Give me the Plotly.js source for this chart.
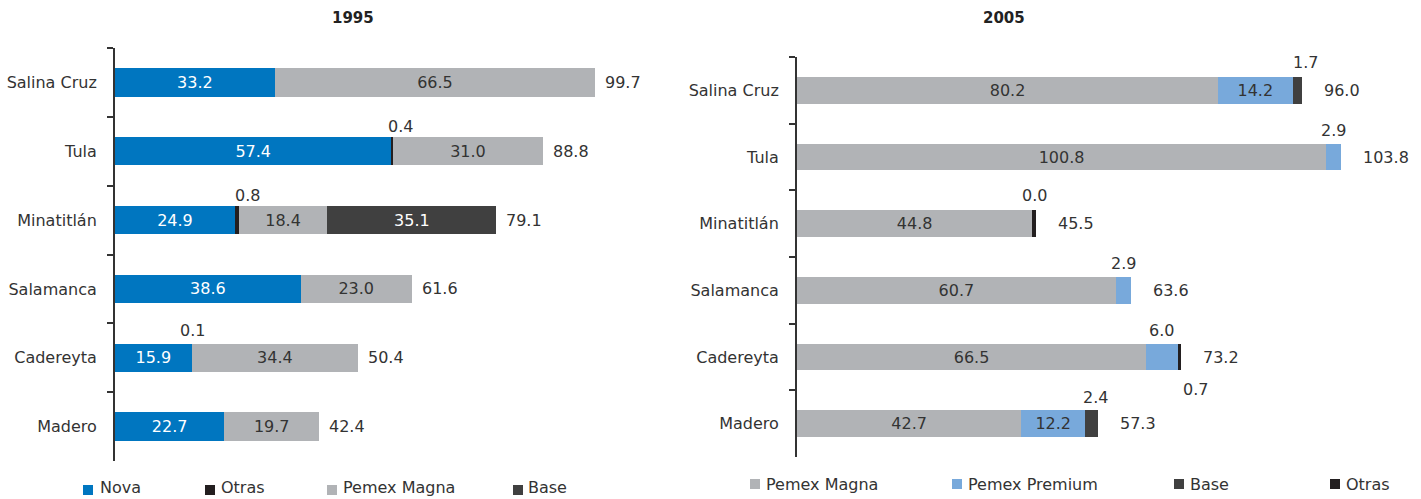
<!DOCTYPE html>
<html>
<head>
<meta charset="utf-8">
<script src="https://cdn.plot.ly/plotly-3.0.1.min.js"></script>
<style>html,body{margin:0;padding:0;background:#fff;}#chart{width:1421px;height:499px;}</style>
</head>
<body>
<div id="chart"></div>
<script>
// ---------- DATA ----------
const categories = ['Salina Cruz', 'Tula', 'Minatitlán', 'Salamanca', 'Cadereyta', 'Madero'];

// 1995
const nova1995  = [33.2, 57.4, 24.9, 38.6, 15.9, 22.7];
const otras1995 = [0, 0.4, 0.8, 0, 0.1, 0];
const magna1995 = [66.5, 31.0, 18.4, 23.0, 34.4, 19.7];
const base1995  = [0, 0, 35.1, 0, 0, 0];
const total1995 = [99.7, 88.8, 79.1, 61.6, 50.4, 42.4];

// 2005
const magna2005   = [80.2, 100.8, 44.8, 60.7, 66.5, 42.7];
const premium2005 = [14.2, 2.9, 0, 2.9, 6.0, 12.2];
const base2005    = [1.7, 0, 0, 0, 0, 2.4];
const otras2005   = [0, 0, 0.7, 0, 0.7, 0];
const otrasLabel2005 = ['', '', '0.0', '', '0.7', ''];
const total2005   = [96.0, 103.8, 45.5, 63.6, 73.2, 57.3];

// ---------- STYLE ----------
const FONT = 'DejaVu Sans, sans-serif';
const TXT = '#333333';
const FS = 16;
const C = {nova: '#0076c0', otras: '#231f20', magna: '#b1b3b6', base: '#404040', premium: '#78a9db'};
const W = 1421, H = 499;

function fmt(v) { return v.toFixed(1); }

const traces = [];
const annotations = [];
const shapes = [];

function addLegendItem(name, color, sqLeftPx, textLeftPx, cyPx) {
  shapes.push({type: 'rect', xref: 'paper', yref: 'paper',
    x0: sqLeftPx / W, x1: (sqLeftPx + 10) / W, y0: 1 - (cyPx + 5) / H, y1: 1 - (cyPx - 5) / H,
    fillcolor: color, line: {width: 0}});
  const bottomPx = Math.min(H, cyPx + 12);
  annotations.push({xref: 'paper', yref: 'paper', x: textLeftPx / W, y: 1 - bottomPx / H,
    xanchor: 'left', yanchor: 'bottom', text: name, showarrow: false,
    font: {family: FONT, size: FS, color: TXT}});
}

function addChart(series, xa, ya, width, totals, totalShift, legendPos, legendY) {
  const cum = categories.map(() => 0);
  series.forEach((s, k) => {
    traces.push({
      type: 'bar', orientation: 'h', name: s.name,
      y: categories, x: s.values, xaxis: xa, yaxis: ya,
      width: width,
      marker: {color: s.color, line: {width: 0}},
      text: s.values.map(v => v >= 10 ? fmt(v) : ''),
      textposition: 'inside', insidetextanchor: 'middle', textangle: 0,
      constraintext: 'none',
      insidetextfont: {family: FONT, size: FS, color: s.textColor || TXT},
      hoverinfo: 'skip', showlegend: false
    });
    addLegendItem(s.name, s.color, legendPos[k][0], legendPos[k][1], legendY);
    s.values.forEach((v, i) => {
      const lab = s.labels ? s.labels[i] : (v > 0 && v < 10 ? fmt(v) : '');
      if (lab !== '') {
        const sh = (s.shift && s.shift[i]) || [0, 27];
        annotations.push({
          xref: xa, yref: ya, x: cum[i] + v / 2, y: categories[i],
          text: lab, showarrow: false, xshift: sh[0], yshift: sh[1],
          font: {family: FONT, size: FS, color: TXT}
        });
      }
      cum[i] += v;
    });
  });
  totals.forEach((t, i) => {
    annotations.push({
      xref: xa, yref: ya, x: cum[i], y: categories[i], text: fmt(t),
      showarrow: false, xanchor: 'left', xshift: totalShift,
      font: {family: FONT, size: FS, color: TXT}
    });
  });
}

addChart([
  {name: 'Nova', values: nova1995, color: C.nova, textColor: '#ffffff'},
  {name: 'Otras', values: otras1995, color: C.otras, shift: {1: [8, 25], 2: [11, 25], 4: [1, 27]}},
  {name: 'Pemex Magna', values: magna1995, color: C.magna},
  {name: 'Base', values: base1995, color: C.base, textColor: '#ffffff'}
], 'x', 'y', 0.41, total1995, 8,
  [[83, 98], [205, 219], [327, 341], [513, 526]], 490);

addChart([
  {name: 'Pemex Magna', values: magna2005, color: C.magna},
  {name: 'Pemex Premium', values: premium2005, color: C.premium},
  {name: 'Base', values: base2005, color: C.base, shift: {0: [8, 28], 5: [4, 26]}},
  {name: 'Otras', values: otras2005, color: C.otras, labels: otrasLabel2005, shift: {2: [0, 28], 4: [16, -32]}}
], 'x2', 'y2', 0.40, total2005, 20,
  [[750, 764], [952, 966], [1174, 1188], [1330, 1344]], 484);

// titles
annotations.push({xref: 'paper', yref: 'paper', x: 330 / W, y: 1 - 18 / H, yanchor: 'middle', text: '<b>1995</b>',
  showarrow: false, font: {family: FONT, size: 15, color: '#222'}});
annotations.push({xref: 'paper', yref: 'paper', x: 1027 / W, y: 1 - 18 / H, yanchor: 'middle', text: '<b>2005</b>',
  showarrow: false, font: {family: FONT, size: 15, color: '#222'}});

const yAxisBase = {
  type: 'category', range: [5.5, -0.5], showline: true, linecolor: '#333', linewidth: 2,
  ticks: 'outside', ticklen: 6, tickwidth: 2, tickcolor: '#333', tickson: 'boundaries',
  ticklabelstandoff: 13, showgrid: false, zeroline: false, fixedrange: true,
  tickfont: {family: FONT, size: FS, color: TXT}
};

const layout = {
  width: W, height: H, margin: {l: 0, r: 0, t: 0, b: 0, autoexpand: false},
  paper_bgcolor: '#fff', plot_bgcolor: '#fff',
  barmode: 'stack', hovermode: false, showlegend: false,
  xaxis: {domain: [115 / W, 655 / W], range: [0, 540 / 4.815], visible: false, fixedrange: true, anchor: 'y'},
  yaxis: Object.assign({}, yAxisBase, {domain: [1 - 461 / H, 1 - 48 / H], anchor: 'x'}),
  xaxis2: {domain: [797 / W, 1400 / W], range: [0, 603 / 5.25], visible: false, fixedrange: true, anchor: 'y2'},
  yaxis2: Object.assign({}, yAxisBase, {domain: [1 - 457 / H, 1 - 57 / H], anchor: 'x2'}),
  annotations: annotations,
  shapes: shapes
};

Plotly.newPlot('chart', traces, layout, {displayModeBar: false, staticPlot: true});
</script>
</body>
</html>
